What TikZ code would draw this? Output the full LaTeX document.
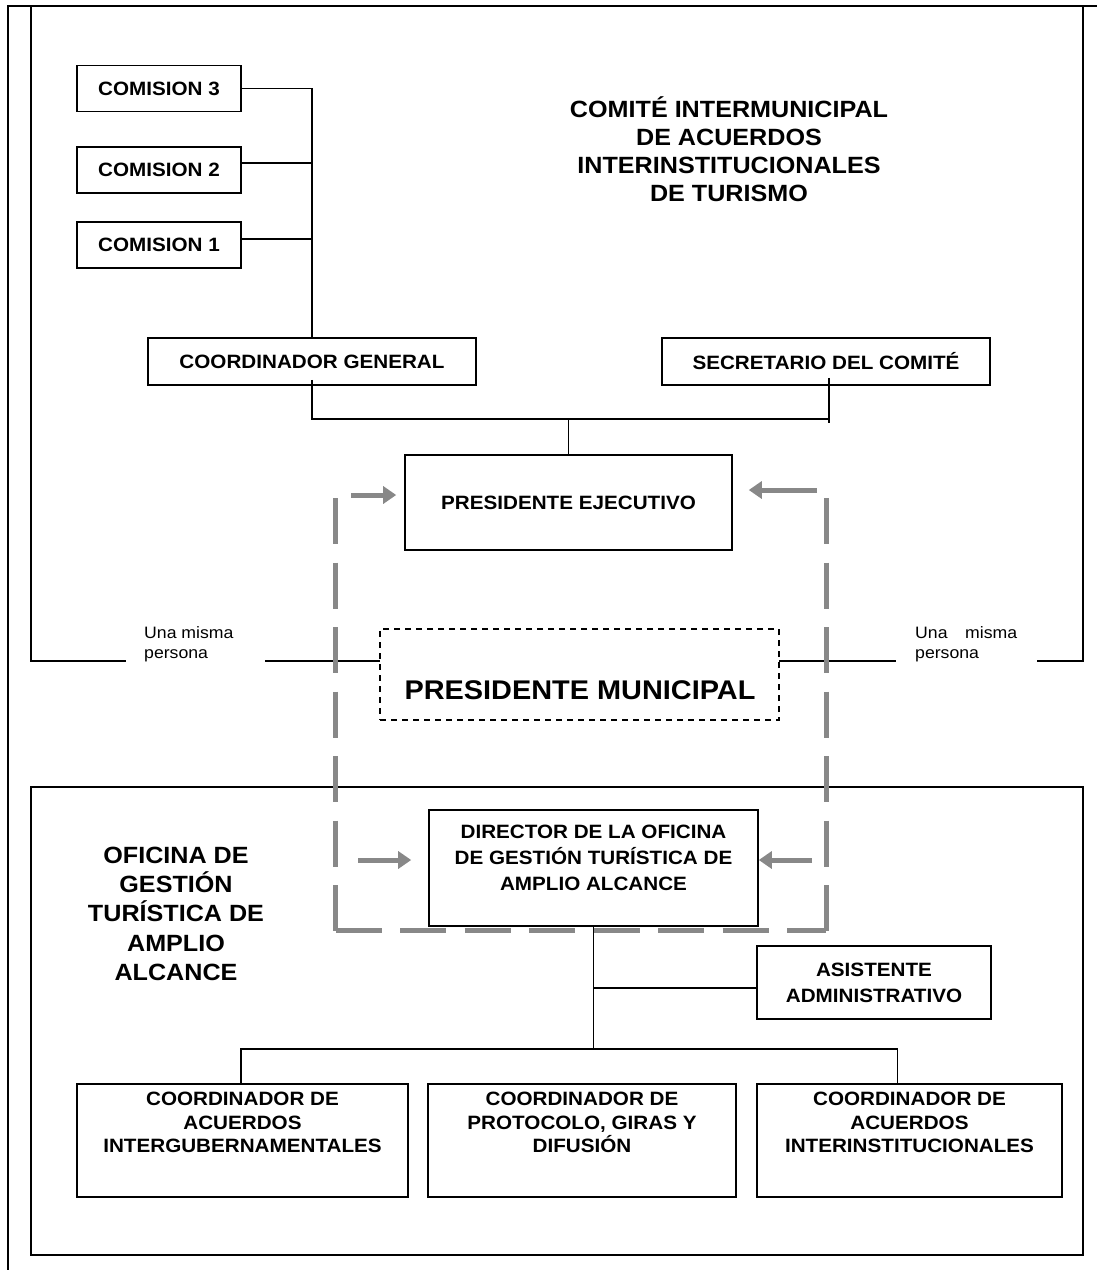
\documentclass[tikz,border=0pt]{standalone}
\usepackage{fontspec}
\setmainfont{Liberation Sans}[FakeStretch=1.07]
\usetikzlibrary{arrows.meta,calc}
\definecolor{linkgray}{RGB}{136,136,136}
\newcommand\cellfont{\fontsize{19.3}{26}\selectfont\bfseries}
\newcommand\rowfont{\fontsize{19.3}{23.5}\selectfont\bfseries}
\newcommand\headfont{\fontsize{23.5}{28}\selectfont\bfseries}
\newcommand\sidefont{\fontsize{23.5}{29.3}\selectfont\bfseries}
\newcommand\mayorfont{\fontsize{27}{30}\selectfont\bfseries}
\newcommand\notefont{\fontsize{16.5}{20}\selectfont}
\begin{document}
\begin{tikzpicture}[x=1pt,y=-1pt,
  outline/.style={line width=2.2pt, line cap=rect},
  orgbox/.style={draw, line width=1.6pt, inner sep=0pt, align=center, font=\cellfont},
  cellText/.style={inner sep=0pt, align=center, font=\cellfont},
  rowText/.style={inner sep=0pt, align=center, font=\rowfont},
  conn/.style={line width=1.5pt},
  mayorbox/.style={draw, line width=1.3pt, dash pattern=on 6pt off 5pt, inner sep=0pt},
  gdash/.style={draw=linkgray, line width=5pt, dash pattern=on 46pt off 18.5pt},
  garrow/.style={draw=linkgray, line width=5pt, -{Triangle[length=13pt,width=17pt]}},
]
\useasboundingbox (0,0) rectangle (1097,1270);

% outer frames of the committee and of the office
\draw[outline] (8,1270) -- (8,6) -- (1097,6);
\draw[outline] (31,6) -- (31,661) -- (125,661);
\draw[outline] (1083,6) -- (1083,661) -- (1038,661);
\draw[outline] (31,787) rectangle (1083,1255);

% committee
\node[orgbox, minimum width=164, minimum height=46] (c3) at (159,88.5) {COMISION 3};
\node[orgbox, minimum width=164, minimum height=46] (c2) at (159,169.7) {COMISION 2};
\node[orgbox, minimum width=164, minimum height=46] (c1) at (159,245) {COMISION 1};
\node[orgbox, minimum width=328, minimum height=47] (cg) at (312,361.5) {COORDINADOR GENERAL};
\node[orgbox, minimum width=328, minimum height=47] (sc) at (826,361.5) {SECRETARIO DEL COMITÉ};
\node[orgbox, minimum width=327, minimum height=95] (pe) at (568.5,502.5) {PRESIDENTE EJECUTIVO};

\node[inner sep=0pt, align=center, font=\headfont, anchor=north] (title) at (729,96.5)
  {COMITÉ INTERMUNICIPAL\\DE ACUERDOS\\INTERINSTITUCIONALES\\DE TURISMO};

\draw[conn] (c3.east) -| (cg.north);
\draw[conn] ($(c2.east)+(0,-6.5)$) -- (cg.north |- {$(c2.east)+(0,-6.5)$});
\draw[conn] ($(c1.east)+(0,-6)$) -- (cg.north |- {$(c1.east)+(0,-6)$});

\coordinate (busR) at (829,419);
\draw[conn] ($(cg.south)+(0,-6)$) |- (busR);
\draw[conn] ($(sc.south)+(3,-8)$) -- ($(sc.south |- busR)+(3,4)$);
\draw[conn] (pe.north) -- (pe.north |- busR);

% mayor
\node[mayorbox, minimum width=399, minimum height=91] (pm) at (579.5,674.5) {};
\node[inner sep=0pt, font=\mayorfont] (pmt) at (580,690) {PRESIDENTE MUNICIPAL};

\coordinate (jl) at (266,661);
\coordinate (jr) at (895,661);
\draw[outline] (jl) -- (pm.west |- jl);
\draw[outline] (pm.east |- jr) -- (jr);
\node[inner sep=0pt, align=left, font=\notefont, anchor=north west] (nl) at (144,626) {Una misma\\persona};
\node[inner sep=0pt, align=left, font=\notefont, anchor=north west] (nr) at (915,626) {\makebox[102pt][s]{Una misma}\\persona};

% office
\node[inner sep=0pt, align=center, font=\sidefont, anchor=north] (office) at (176,846.6)
  {OFICINA DE\\GESTIÓN\\TURÍSTICA DE\\AMPLIO\\ALCANCE};
\node[orgbox, minimum width=329, minimum height=116] (dir) at (593.5,868) {};
\node[cellText, anchor=north] (dirt) at (593.5,825) {DIRECTOR DE LA OFICINA\\DE GESTIÓN TURÍSTICA DE\\AMPLIO ALCANCE};
\node[orgbox, minimum width=234, minimum height=73] (asis) at (874,982.5) {ASISTENTE\\ADMINISTRATIVO};

\node[orgbox, minimum width=331, minimum height=113] (b1) at (242.5,1140.5) {};
\node[orgbox, minimum width=308, minimum height=113] (b2) at (582,1140.5) {};
\node[orgbox, minimum width=305, minimum height=113] (b3) at (909.5,1140.5) {};
\node[rowText, anchor=north] (b1t) at (242.5,1092) {COORDINADOR DE\\ACUERDOS\\INTERGUBERNAMENTALES};
\node[rowText, anchor=north] (b2t) at (582,1092) {COORDINADOR DE\\PROTOCOLO, GIRAS Y\\DIFUSIÓN};
\node[rowText, anchor=north] (b3t) at (909.5,1092) {COORDINADOR DE\\ACUERDOS\\INTERINSTITUCIONALES};

\coordinate (busB) at (592,1049);
\draw[conn] (dir.south) -- (dir.south |- busB);
\draw[conn] (dir.south |- {$(asis.west)+(0,5.5)$}) -- ($(asis.west)+(0,5.5)$);
\draw[conn] ($(b1.north)+(-1.5,0)$) |- (busB) -| ($(b3.north)+(-12,0)$);

% grey link between both posts
\coordinate (gtl) at (335,498);
\coordinate (gbl) at (335,932.5);
\coordinate (gtr) at (826,498);
\coordinate (gbr) at (826,932.5);
\draw[gdash] (gtl) -- (gbl);
\draw[gdash] (gtr) -- (gbr);
\draw[gdash] (335.5,930) -- (826,930);

\coordinate (atl) at (351,495);
\coordinate (atr) at (817,490);
\coordinate (abl) at (358,860);
\coordinate (abr) at (812,860);
\draw[garrow, shorten >=8pt] (atl) -- (pe.west |- atl);
\draw[garrow, shorten >=16pt] (atr) -- (pe.east |- atr);
\draw[garrow, shorten >=17pt] (abl) -- (dir.west |- abl);
\draw[garrow] (abr) -- (dir.east |- abr);
\end{tikzpicture}
\end{document}
